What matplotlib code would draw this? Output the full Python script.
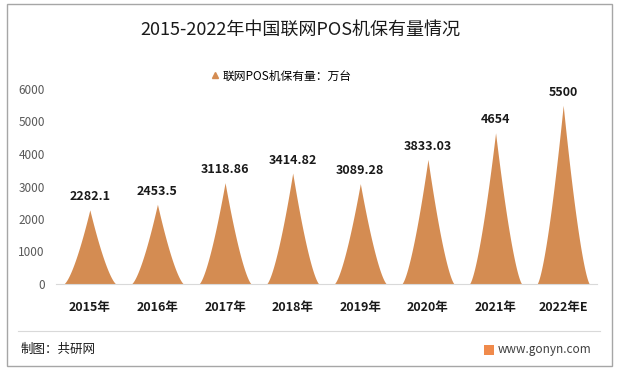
import numpy as np
import matplotlib.pyplot as plt
from matplotlib.lines import Line2D
from matplotlib.patches import Rectangle

plt.rcParams['font.family'] = ['Noto Sans CJK SC', 'DejaVu Sans']

years = ['2015年', '2016年', '2017年', '2018年', '2019年', '2020年', '2021年', '2022年E']
values = [2282.1, 2453.5, 3118.86, 3414.82, 3089.28, 3833.03, 4654, 5500]
labels = ['2282.1', '2453.5', '3118.86', '3414.82', '3089.28', '3833.03', '4654', '5500']
yticks = [0, 1000, 2000, 3000, 4000, 5000, 6000]

color = '#D48C52'
W, H = 617, 371

fig = plt.figure(figsize=(W / 100, H / 100), dpi=100)
ax = fig.add_axes([56 / W, 1 - 284 / H, 541 / W, 195 / H])

# peak shape: concave sides, y = h * (1 - |t|) ** p
half = 0.39
p = 1.45
t = np.linspace(-1, 1, 401)
for i, v in enumerate(values):
    xs = i + t * half
    ys = v * (1 - np.abs(t)) ** p
    ax.fill_between(xs, 0, ys, color=color, lw=0)
    ax.text(i, v + 200, labels[i], ha='center', va='bottom',
            fontsize=9, fontweight='bold', color='#1a1a1a')

ax.set_xlim(-0.5, len(values) - 0.5)
ax.set_ylim(0, 6000)
ax.set_yticks(yticks)
ax.set_yticklabels([str(y) for y in yticks], fontsize=8.5, color='#595959')
ax.set_xticks(range(len(years)))
ax.set_xticklabels(years, fontsize=9, fontweight='bold', color='#1a1a1a')
ax.tick_params(axis='x', length=0, pad=12)
ax.tick_params(axis='y', length=0, pad=8)
for s in ['top', 'right', 'left']:
    ax.spines[s].set_visible(False)
ax.spines['bottom'].set_color('#D9D9D9')
ax.patch.set_alpha(0)

# title and legend
fig.text(300 / W, 1 - 30 / H, '2015-2022年中国联网POS机保有量情况',
         ha='center', va='center', fontsize=13, color='#1a1a1a')
handle = Line2D([], [], marker='^', color=color, lw=0, markersize=4.5)
fig.legend([handle], ['联网POS机保有量：万台'], loc='center',
           bbox_to_anchor=(282 / W, 1 - 76 / H), frameon=False,
           fontsize=8.5, handlelength=0.5, handletextpad=0.4)

# frame, separator and footer
fig.patches.append(Rectangle((7 / W, 1 - 366 / H), 605 / W, 362 / H,
                             transform=fig.transFigure, fill=False,
                             ec='#A6A6A6', lw=1))
fig.add_artist(Line2D([18 / W, 600 / W], [1 - 331 / H, 1 - 331 / H],
                      transform=fig.transFigure, color='#D9D9D9', lw=0.8))
fig.text(21 / W, 1 - 349 / H, '制图：共研网', ha='left', va='center',
         fontsize=9, color='#1a1a1a')
fig.patches.append(Rectangle((484 / W, 1 - 355 / H), 10 / W, 10 / H,
                             transform=fig.transFigure, color='#F08A4B', lw=0))
fig.text(498 / W, 1 - 349 / H, 'www.gonyn.com', ha='left', va='center',
         fontsize=8.5, color='#404040')

fig.savefig('out.png', dpi=100)
